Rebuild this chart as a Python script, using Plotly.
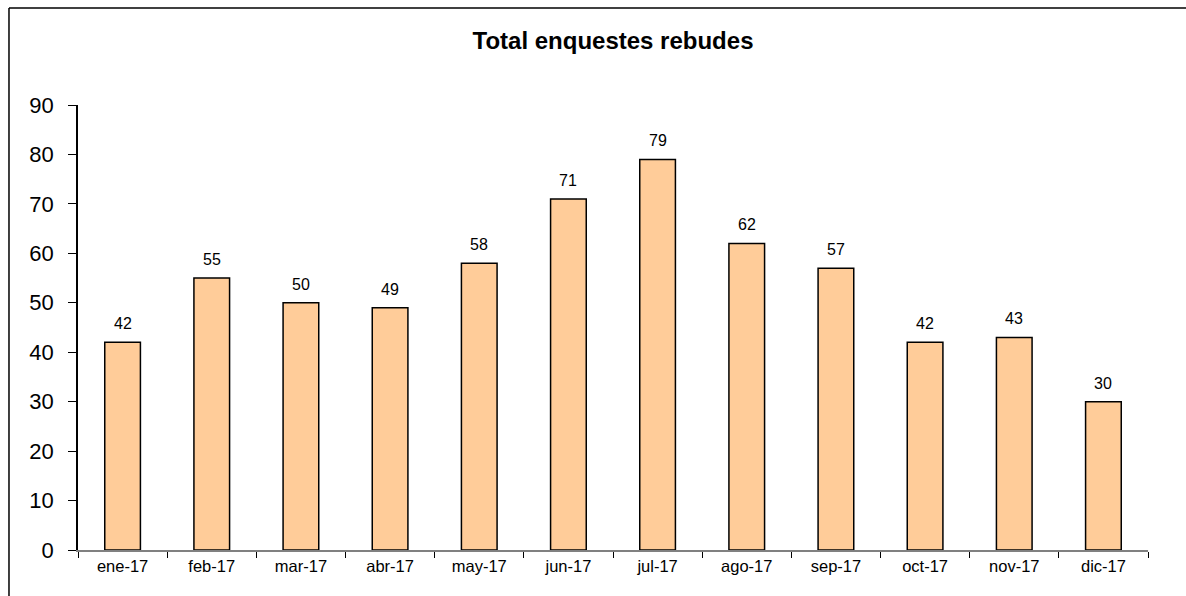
import plotly.graph_objects as go

months = ["ene-17", "feb-17", "mar-17", "abr-17", "may-17", "jun-17",
          "jul-17", "ago-17", "sep-17", "oct-17", "nov-17", "dic-17"]
surveys = [42, 55, 50, 49, 58, 71, 79, 62, 57, 42, 43, 30]
y_ticks = [0, 10, 20, 30, 40, 50, 60, 70, 80, 90]

FONT = "Liberation Sans, Arial, sans-serif"

fig = go.Figure()
fig.add_trace(go.Bar(
    x=months,
    y=surveys,
    width=0.4,
    marker=dict(color="#FFCC99", line=dict(color="#000000", width=1.5)),
    hoverinfo="x+y",
))

# value labels above each bar
for m, v in zip(months, surveys):
    fig.add_annotation(
        x=m, y=v, text=str(v), showarrow=False,
        yanchor="bottom", yshift=8,
        font=dict(family=FONT, size=16, color="#000000"),
    )

# outer chart frame: top and left edges (the rest runs off the page)
frame = dict(color="#000000", width=1.5)
fig.add_shape(type="line", xref="paper", yref="paper",
              x0=-0.0645, x1=1.0355, y0=1.218, y1=1.218, line=frame)
fig.add_shape(type="line", xref="paper", yref="paper",
              x0=-0.0645, x1=-0.0645, y0=1.218, y1=-0.5, line=frame)

fig.update_layout(
    width=1186, height=596,
    margin=dict(l=78, r=38, t=105, b=46),
    paper_bgcolor="#FFFFFF",
    plot_bgcolor="#FFFFFF",
    showlegend=False,
    title=dict(
        text="<b>Total enquestes rebudes</b>",
        x=0.5, xanchor="center", xref="paper",
        y=1 - 41 / 596, yanchor="middle",
        font=dict(family=FONT, size=24, color="#000000"),
    ),
    xaxis=dict(
        type="category",
        showline=True, linecolor="#808080", linewidth=1.5,
        ticks="outside", tickson="boundaries", ticklen=6,
        tickcolor="#000000", tickwidth=1,
        showgrid=False, zeroline=False,
        tickfont=dict(family=FONT, size=16.5, color="#000000"),
        range=[-0.5, 11.5],
    ),
    yaxis=dict(
        range=[0, 90],
        tickvals=y_ticks,
        showline=True, linecolor="#000000", linewidth=1.5,
        ticks="outside", ticklen=8, tickcolor="#000000", tickwidth=1,
        ticklabelstandoff=10,
        showgrid=False, zeroline=False,
        tickfont=dict(family=FONT, size=22, color="#000000"),
    ),
)

fig.write_html("out.html")
